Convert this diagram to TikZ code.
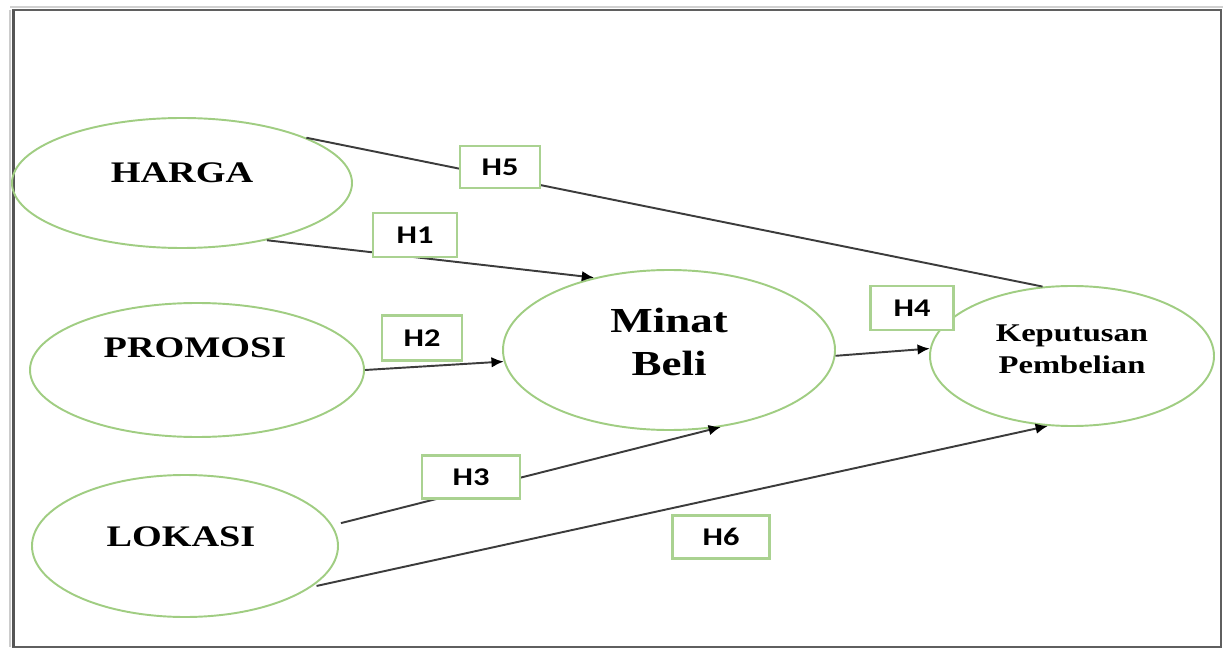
\documentclass[tikz,border=0pt]{standalone}
\usepackage{fontspec}
\usetikzlibrary{shapes.geometric,arrows.meta}
\newfontfamily\serifb[FakeStretch=1.28]{Liberation Serif}
\newfontfamily\hlab[FakeStretch=1.27]{Carlito}
\definecolor{ellgreen}{RGB}{160,205,130}
\definecolor{boxgreen}{RGB}{170,210,145}
\definecolor{linegray}{RGB}{60,60,60}
\definecolor{framegray}{RGB}{95,95,95}
\tikzset{
  construct/.style={draw=ellgreen, line width=1.1pt, ellipse, inner sep=0pt},
  bigtext/.style={font=\serifb\bfseries\fontsize{17}{20}\selectfont, inner sep=0pt, align=center},
  hbox/.style={draw=boxgreen, line width=1.2pt, fill=white, inner sep=0pt,
    font=\hlab\bfseries\fontsize{14.5}{16}\selectfont},
  conn/.style={draw=linegray, line width=1.1pt},
  arr/.style={conn, -{Latex[length=7pt,width=6pt,color=black]}}
}
\begin{document}
\begin{tikzpicture}[x={(0.02cm,0)}, y={(0,-0.02cm)}]
\useasboundingbox (0,0) rectangle (1223,648);
% frame
\draw[line width=1.5pt, black!18] (10,7) -- (1223,7);
\draw[line width=1.2pt, black!20] (10,10) -- (10,647);
\draw[line width=1.6pt, framegray] (13,10) -- (1221,10) -- (1221,647) -- (13,647) -- cycle;
\draw[line width=2.2pt, framegray!90!black] (13.5,10) -- (13.5,647);

% constructs
\node[construct, minimum width={340*0.02cm}, minimum height={130*0.02cm}] (harga) at (182,183) {};
\node[construct, minimum width={334*0.02cm}, minimum height={134*0.02cm}] (promosi) at (197,370) {};
\node[construct, minimum width={306*0.02cm}, minimum height={142*0.02cm}] (lokasi) at (185,546) {};
\node[construct, minimum width={332*0.02cm}, minimum height={160*0.02cm}] (minat) at (669,350) {};
\node[construct, minimum width={284*0.02cm}, minimum height={140*0.02cm}] (kep) at (1072,356) {};

% texts
\node[bigtext] (tharga) at (182,173) {HARGA};
\node[bigtext] (tpromosi) at (195,348) {PROMOSI};
\node[bigtext] (tlokasi) at (181,537) {LOKASI};
\node[bigtext, font=\serifb\bfseries\fontsize{20}{24}\selectfont] (tminat) at (669,342) {Minat\\Beli};
\node[bigtext, font=\serifb\bfseries\fontsize{14.5}{18}\selectfont] (tkep) at (1072,349) {Keputusan\\Pembelian};

% connectors
\draw[conn] (harga.20) -- (kep.113);
\draw[arr] (harga.-34) -- (minat.136);
\draw[arr] (promosi.east) -- (minat.184);
\draw[arr, shorten <=5pt] (lokasi.8) -- (minat.-56);
\draw[arr] (minat.-2) -- (kep.177);
\draw[arr, shorten <=3pt] (lokasi.-18) -- (kep.-109);

% hypothesis boxes
\node[hbox, minimum width={80*0.02cm}, minimum height={42*0.02cm}] (h5) at (500,167) {H5};
\node[hbox, minimum width={84*0.02cm}, minimum height={44*0.02cm}] (h1) at (415,235) {H1};
\node[hbox, minimum width={80*0.02cm}, minimum height={45*0.02cm}] (h2) at (422,338) {H2};
\node[hbox, minimum width={98*0.02cm}, minimum height={43*0.02cm}] (h3) at (471,477) {H3};
\node[hbox, minimum width={83*0.02cm}, minimum height={44*0.02cm}] (h4) at (912,308) {H4};
\node[hbox, minimum width={97*0.02cm}, minimum height={43*0.02cm}] (h6) at (721,537) {H6};
\end{tikzpicture}
\end{document}
